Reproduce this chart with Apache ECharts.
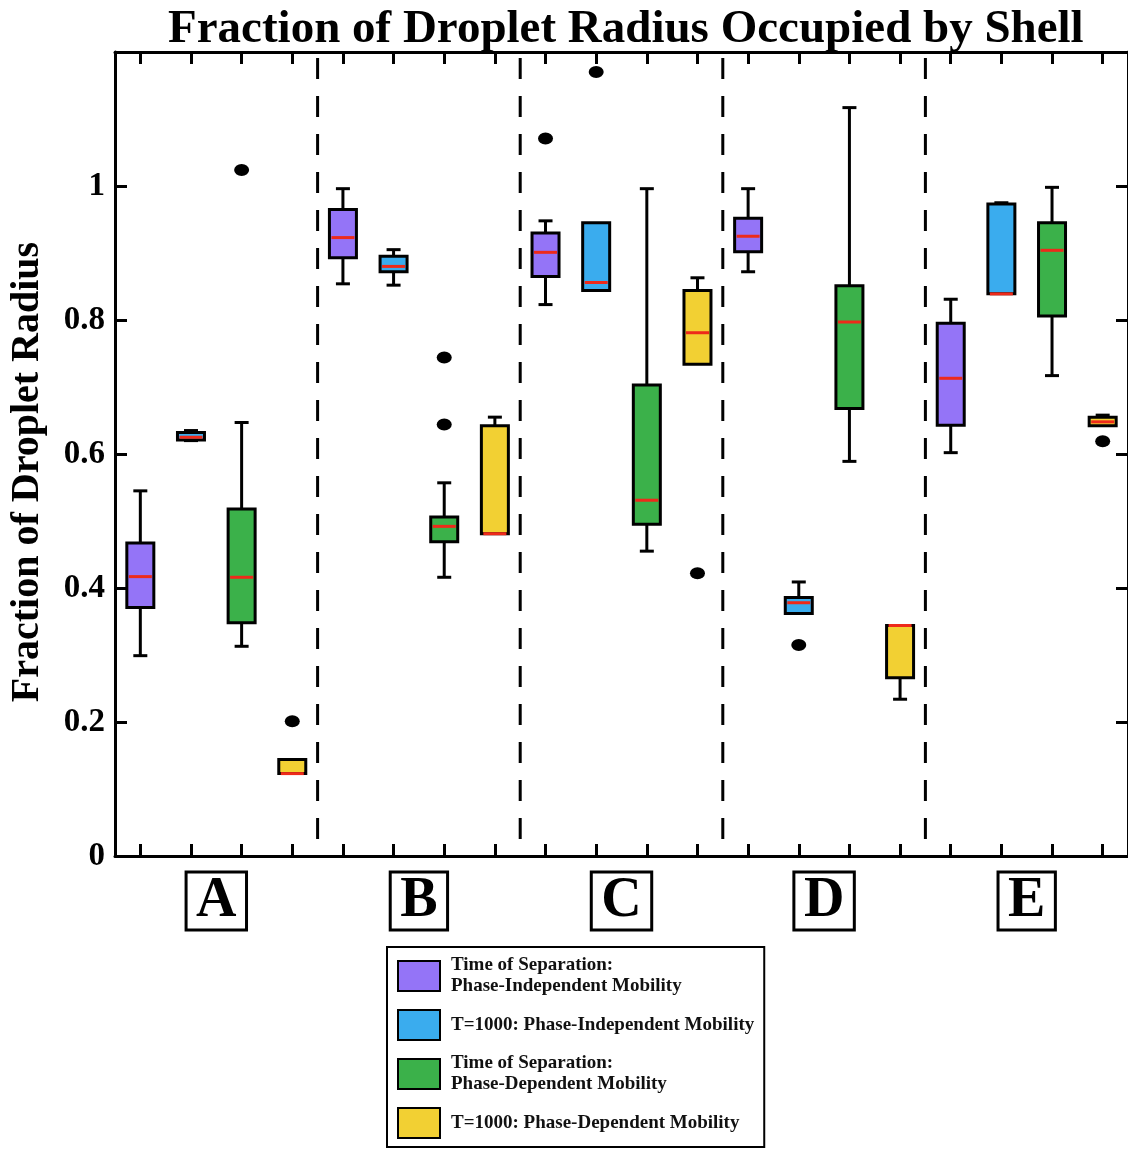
<!DOCTYPE html>
<html>
<head>
<meta charset="utf-8">
<script src="https://cdn.jsdelivr.net/npm/echarts@6/dist/echarts.min.js"></script>
<style>
  html, body { margin: 0; padding: 0; background: #fff; }
  #main { width: 1128px; height: 1149px; }
</style>
</head>
<body>
<div id="main"></div>
<script>
// groups along the x axis, four boxes each
var groups = ['A', 'B', 'C', 'D', 'E'];
var seriesNames = [
  'Time of Separation:\nPhase-Independent Mobility',
  'T=1000: Phase-Independent Mobility',
  'Time of Separation:\nPhase-Dependent Mobility',
  'T=1000: Phase-Dependent Mobility'
];
var seriesColors = ['#9474f7', '#3aacee', '#3bb14a', '#f2d033'];
var yTicks = [0, 0.2, 0.4, 0.6, 0.8, 1, 1.2];

// [min, q1, median, q3, max] per group A..E
var sepIndep = [
  [0.299, 0.371, 0.417, 0.467, 0.545],
  [0.854, 0.893, 0.923, 0.965, 0.996],
  [0.823, 0.865, 0.901, 0.930, 0.948],
  [0.872, 0.902, 0.925, 0.952, 0.996],
  [0.602, 0.643, 0.713, 0.795, 0.831]
];
var t1000Indep = [
  [0.620, 0.621, 0.625, 0.632, 0.635],
  [0.852, 0.872, 0.880, 0.895, 0.905],
  [0.844, 0.844, 0.856, 0.945, 0.945],
  [0.362, 0.362, 0.378, 0.386, 0.409],
  [0.839, 0.839, 0.839, 0.973, 0.975]
];
var sepDep = [
  [0.313, 0.348, 0.416, 0.518, 0.647],
  [0.416, 0.469, 0.492, 0.506, 0.557],
  [0.455, 0.495, 0.531, 0.703, 0.996],
  [0.589, 0.668, 0.797, 0.851, 1.117],
  [0.717, 0.806, 0.904, 0.945, 0.998]
];
var t1000Dep = [
  [0.123, 0.123, 0.123, 0.144, 0.144],
  [0.481, 0.481, 0.481, 0.642, 0.655],
  [0.734, 0.734, 0.781, 0.844, 0.863],
  [0.234, 0.266, 0.344, 0.344, 0.344],
  [0.642, 0.642, 0.648, 0.655, 0.658]
];

// outliers: [group index, value]
var sepIndepOut = [[2, 1.071]];
var t1000IndepOut = [[2, 1.170], [3, 0.315]];
var sepDepOut = [[0, 1.024], [1, 0.744], [1, 0.644]];
var t1000DepOut = [[0, 0.201], [2, 0.422], [4, 0.619]];

var allBoxes = [sepIndep, t1000Indep, sepDep, t1000Dep];
var allOut = [sepIndepOut, t1000IndepOut, sepDepOut, t1000DepOut];

var serif = 'Liberation Serif';
var myChart = echarts.init(document.getElementById('main'));

// one slot per box on the category axis
var slots = [];
groups.forEach(function (g) {
  for (var i = 0; i < 4; i++) slots.push(g + (i + 1));
});

function renderBox(params, api) {
  var x = api.value(0);
  var pMin = api.coord([x, api.value(1)]);
  var pQ1 = api.coord([x, api.value(2)]);
  var pMed = api.coord([x, api.value(3)]);
  var pQ3 = api.coord([x, api.value(4)]);
  var pMax = api.coord([x, api.value(5)]);
  var cx = pMed[0];
  var hw = 13.5, cap = 7;
  var black = { stroke: '#000', lineWidth: 3 };
  var kids = [];
  if (pMax[1] < pQ3[1] - 0.5) {
    kids.push({ type: 'line', shape: { x1: cx, y1: pMax[1], x2: cx, y2: pQ3[1] }, style: black });
    kids.push({ type: 'line', shape: { x1: cx - cap, y1: pMax[1], x2: cx + cap, y2: pMax[1] }, style: black });
  }
  if (pMin[1] > pQ1[1] + 0.5) {
    kids.push({ type: 'line', shape: { x1: cx, y1: pQ1[1], x2: cx, y2: pMin[1] }, style: black });
    kids.push({ type: 'line', shape: { x1: cx - cap, y1: pMin[1], x2: cx + cap, y2: pMin[1] }, style: black });
  }
  kids.push({
    type: 'rect',
    shape: { x: cx - hw, y: pQ3[1], width: hw * 2, height: Math.max(pQ1[1] - pQ3[1], 1) },
    style: { fill: api.visual('color'), stroke: '#000', lineWidth: 3 }
  });
  kids.push({
    type: 'line',
    shape: { x1: cx - hw + 2, y1: pMed[1], x2: cx + hw - 2, y2: pMed[1] },
    style: { stroke: '#ee2a1a', lineWidth: 3 }
  });
  return { type: 'group', children: kids };
}

function renderDivider(params, api) {
  var p = api.coord([api.value(0), 0]);
  var band = api.size([1, 0])[0];
  var x = p[0] + band / 2;
  var cs = params.coordSys;
  return {
    type: 'line',
    shape: { x1: x, y1: cs.y + 6, x2: x, y2: cs.y + cs.height },
    style: { stroke: '#000', lineWidth: 3, lineDash: [21, 17] }
  };
}

var series = [];
allBoxes.forEach(function (boxes, s) {
  series.push({
    name: seriesNames[s],
    type: 'custom',
    xAxisIndex: 0,
    yAxisIndex: 0,
    itemStyle: { color: seriesColors[s] },
    renderItem: renderBox,
    encode: { x: 0, y: [1, 2, 3, 4, 5] },
    data: boxes.map(function (b, g) { return [g * 4 + s].concat(b); }),
    z: 3
  });
});
allOut.forEach(function (pts, s) {
  series.push({
    type: 'scatter',
    xAxisIndex: 0,
    yAxisIndex: 0,
    symbol: 'circle',
    symbolSize: [15, 12],
    itemStyle: { color: '#000', opacity: 1 },
    data: pts.map(function (p) { return [p[0] * 4 + s, p[1]]; }),
    z: 4
  });
});
series.push({
  type: 'custom',
  xAxisIndex: 0,
  yAxisIndex: 0,
  renderItem: renderDivider,
  encode: { x: 0 },
  data: [[3], [7], [11], [15]],
  silent: true,
  z: 2
});

var axisLine = { show: true, lineStyle: { color: '#000', width: 3 } };
var tickStyle = { color: '#000', width: 3 };

var option = {
  backgroundColor: '#fff',
  animation: false,
  title: {
    text: 'Fraction of Droplet Radius Occupied by Shell',
    left: 163,
    top: 1,
    textStyle: { fontFamily: serif, fontWeight: 'bold', fontSize: 47, color: '#000' }
  },
  graphic: [{
    type: 'text',
    x: 28,
    y: 472,
    rotation: Math.PI / 2,
    style: {
      text: 'Fraction of Droplet Radius',
      fontFamily: serif, fontWeight: 'bold', fontSize: 40, fill: '#000',
      align: 'center', verticalAlign: 'middle'
    }
  }],
  legend: {
    orient: 'vertical',
    left: 387,
    top: 947,
    padding: [8, 10, 8, 10],
    borderColor: '#000',
    borderWidth: 2,
    itemGap: 12,
    itemWidth: 42,
    itemHeight: 30,
    icon: 'rect',
    itemStyle: { borderColor: '#000', borderWidth: 2 },
    data: seriesNames,
    textStyle: {
      fontFamily: serif, fontWeight: 'bold', fontSize: 19, lineHeight: 21,
      color: '#111', padding: [0, 0, 0, 6]
    }
  },
  grid: { left: 115, right: -3, top: 52, bottom: 293 },
  xAxis: [
    {
      type: 'category',
      data: slots,
      position: 'bottom',
      boundaryGap: true,
      axisLine: axisLine,
      axisTick: { show: true, inside: true, length: 12, alignWithLabel: true, lineStyle: tickStyle },
      axisLabel: { show: false },
      splitLine: { show: false }
    },
    {
      type: 'category',
      data: groups,
      position: 'bottom',
      axisLine: { show: false },
      axisTick: { show: false },
      axisLabel: {
        margin: 16,
        fontFamily: serif, fontWeight: 'bold', fontSize: 56, color: '#000',
        lineHeight: 54,
        borderColor: '#000', borderWidth: 3,
        padding: [3, 10, 1, 10]
      }
    },
    {
      type: 'category',
      data: slots,
      position: 'top',
      axisLine: axisLine,
      axisTick: { show: true, inside: true, length: 12, alignWithLabel: true, lineStyle: tickStyle },
      axisLabel: { show: false }
    }
  ],
  yAxis: [
    {
      type: 'value',
      position: 'left',
      min: 0,
      max: 1.2,
      interval: 0.2,
      axisLine: axisLine,
      axisTick: { show: true, inside: true, length: 12, lineStyle: tickStyle },
      axisLabel: {
        margin: 10,
        fontFamily: serif, fontWeight: 'bold', fontSize: 33, color: '#000',
        formatter: function (v) { return v > 1.1 ? '' : String(+v.toFixed(1)); }
      },
      splitLine: { show: false }
    },
    {
      type: 'value',
      position: 'right',
      min: 0,
      max: 1.2,
      interval: 0.2,
      axisLine: axisLine,
      axisTick: { show: true, inside: true, length: 12, lineStyle: tickStyle },
      axisLabel: { show: false },
      splitLine: { show: false }
    }
  ],
  series: series
};

myChart.setOption(option);
</script>
</body>
</html>
